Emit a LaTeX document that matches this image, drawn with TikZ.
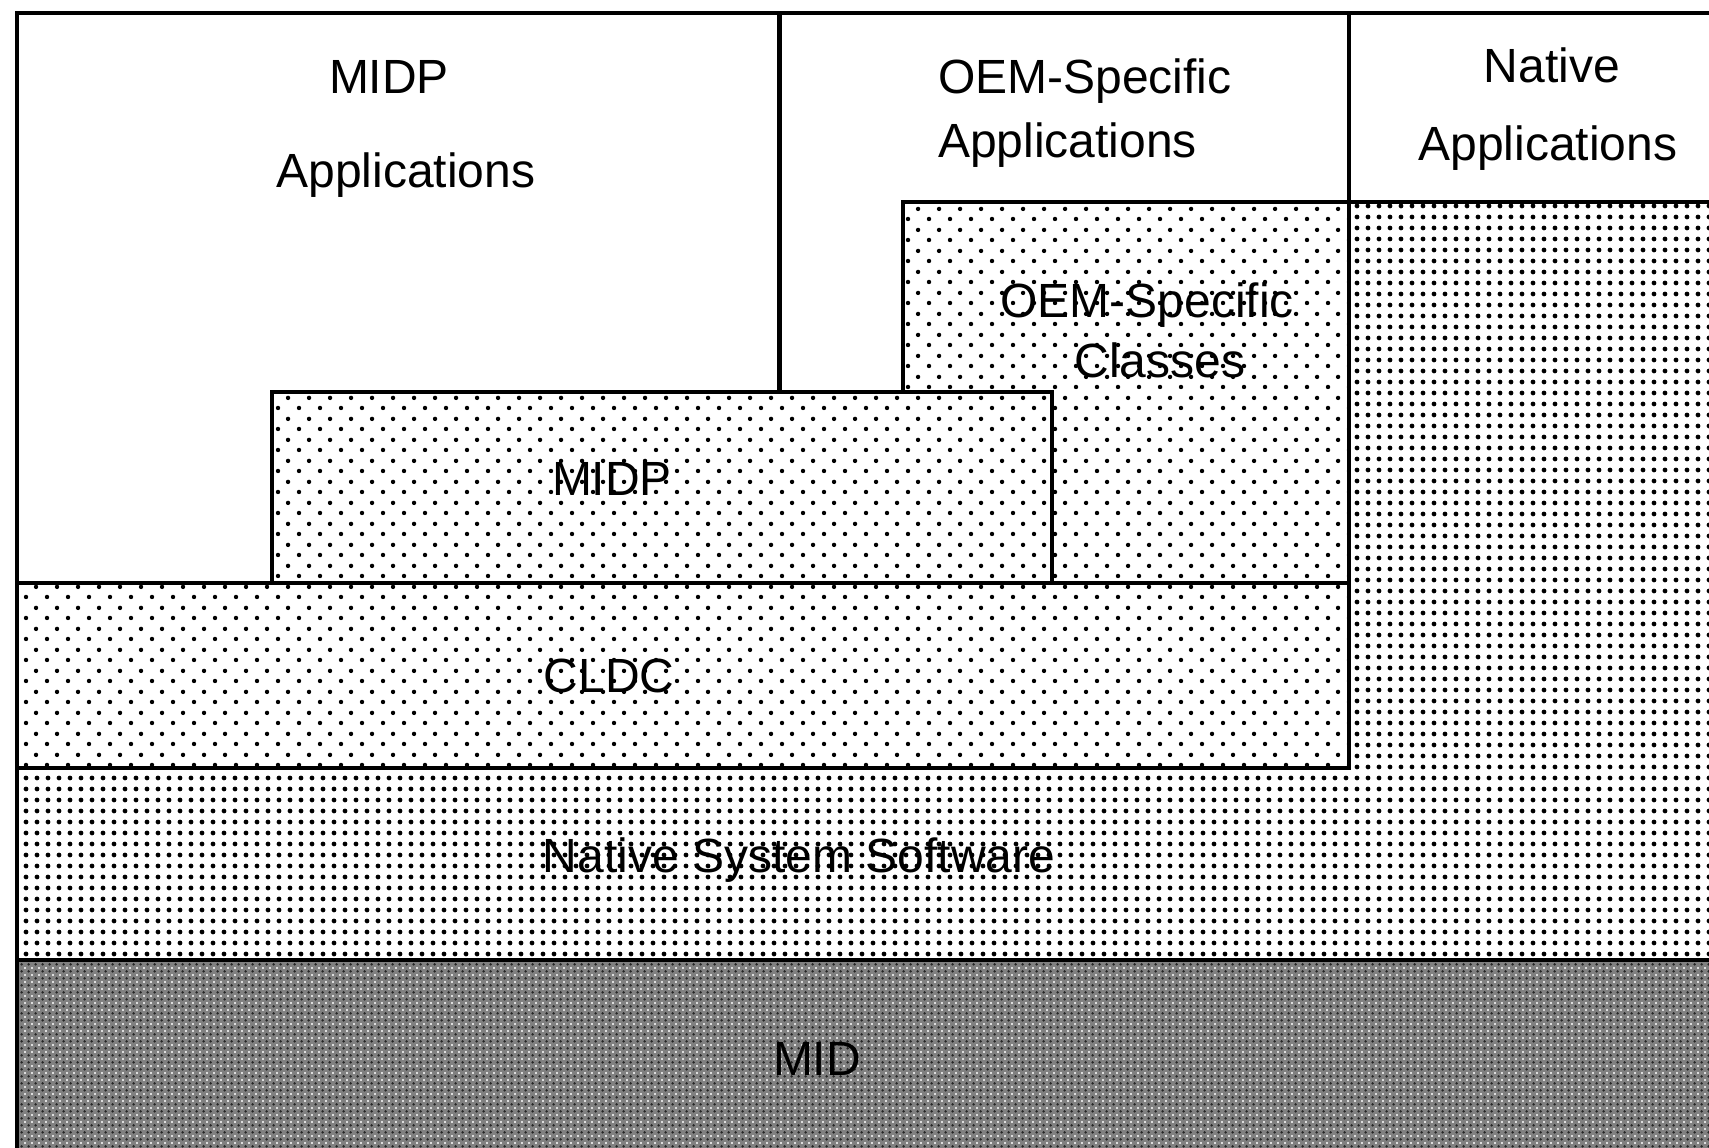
\documentclass[tikz,border=0pt]{standalone}
\usepackage{fontspec}
\setmainfont{Liberation Sans}
\usetikzlibrary{patterns.meta}

\definecolor{midgray}{RGB}{128,128,128}

% staggered open dot screen used for the Java layers
\tikzdeclarepattern{
  name=sparsedots,
  bottom left={(0pt,0pt)},
  top right={(21pt,21pt)},
  tile size={(21pt,21pt)},
  code={
    \fill (5.25pt,5.25pt) circle (2.3pt);
    \fill (15.75pt,15.75pt) circle (2.3pt);
  }
}
% tight square dot screen for the native software layer
\tikzdeclarepattern{
  name=densedots,
  bottom left={(0pt,0pt)},
  top right={(10.5pt,10.5pt)},
  tile size={(10.5pt,10.5pt)},
  code={
    \fill (5.25pt,5.25pt) circle (2.5pt);
  }
}
% fine screens for the device layer
\tikzdeclarepattern{
  name=finedotsA,
  bottom left={(0pt,0pt)},
  top right={(6.8pt,6.8pt)},
  tile size={(6.8pt,6.8pt)},
  code={
    \fill (1.7pt,1.7pt) circle (1.4pt);
  }
}
\tikzdeclarepattern{
  name=finedotsB,
  bottom left={(0pt,0pt)},
  top right={(6.8pt,6.8pt)},
  tile size={(6.8pt,6.8pt)},
  code={
    \fill (5.1pt,5.1pt) circle (1.1pt);
  }
}

\tikzset{
  rule/.style={draw=black, line width=3.5pt, line join=miter},
  sparselayer/.style={rule, preaction={fill=white}, pattern=sparsedots, pattern color=black},
  denselayer/.style={rule, preaction={fill=white}, pattern=densedots, pattern color=black},
  devicelayer/.style={rule, preaction={fill=midgray},
    preaction={pattern=finedotsB, pattern color=white},
    pattern=finedotsA, pattern color=black!85},
  divider/.style={draw=black, line width=5pt},
  lbl/.style={font=\fontsize{48}{56}\selectfont, inner sep=0pt, anchor=base}
}

\begin{document}
\begin{tikzpicture}[x=1pt,y=-1pt]
\useasboundingbox (0,0) rectangle (1709,1148);
\clip (0,0) rectangle (1709,1148);
\fill[white] (0,0) rectangle (1709,1148);

% device layer
\path[devicelayer] (17,960) rectangle (1745,1185);
% native system software, reaching up under the native applications
\path[denselayer] (17,768) -- (1349,768) -- (1349,202) -- (1745,202)
  -- (1745,960) -- (17,960) -- cycle;
% CLDC
\path[sparselayer] (17,583) rectangle (1349,768);
% OEM-specific classes
\path[sparselayer] (903,202) rectangle (1349,583);
% MIDP
\path[sparselayer] (272,392) rectangle (1052,583);

% application area frame and column dividers
\draw[rule] (17,1185) -- (17,13) -- (1745,13);
\draw[divider] (779,13) -- (779,392);
\draw[rule] (1349,13) -- (1349,202);

% labels
\node[lbl] (midpappsA) at (389,93) {MIDP};
\node[lbl] (midpappsB) at (406,187) {Applications};
\node[lbl, anchor=base west] (oemappsA) at (938,93) {OEM-Specific};
\node[lbl, anchor=base west] (oemappsB) at (938,157) {Applications};
\node[lbl] (nativeappsA) at (1552,83) {Native};
\node[lbl] (nativeappsB) at (1548,160) {Applications};
\node[lbl] (oemclassesA) at (1147,317) {OEM-Specific};
\node[lbl] (oemclassesB) at (1160,377) {Classes};
\node[lbl] (midp) at (612,495) {MIDP};
\node[lbl] (cldc) at (609,692) {CLDC};
\node[lbl] (nss) at (799,872) {Native System Software};
\node[lbl] (mid) at (817,1075) {MID};
\end{tikzpicture}
\end{document}
